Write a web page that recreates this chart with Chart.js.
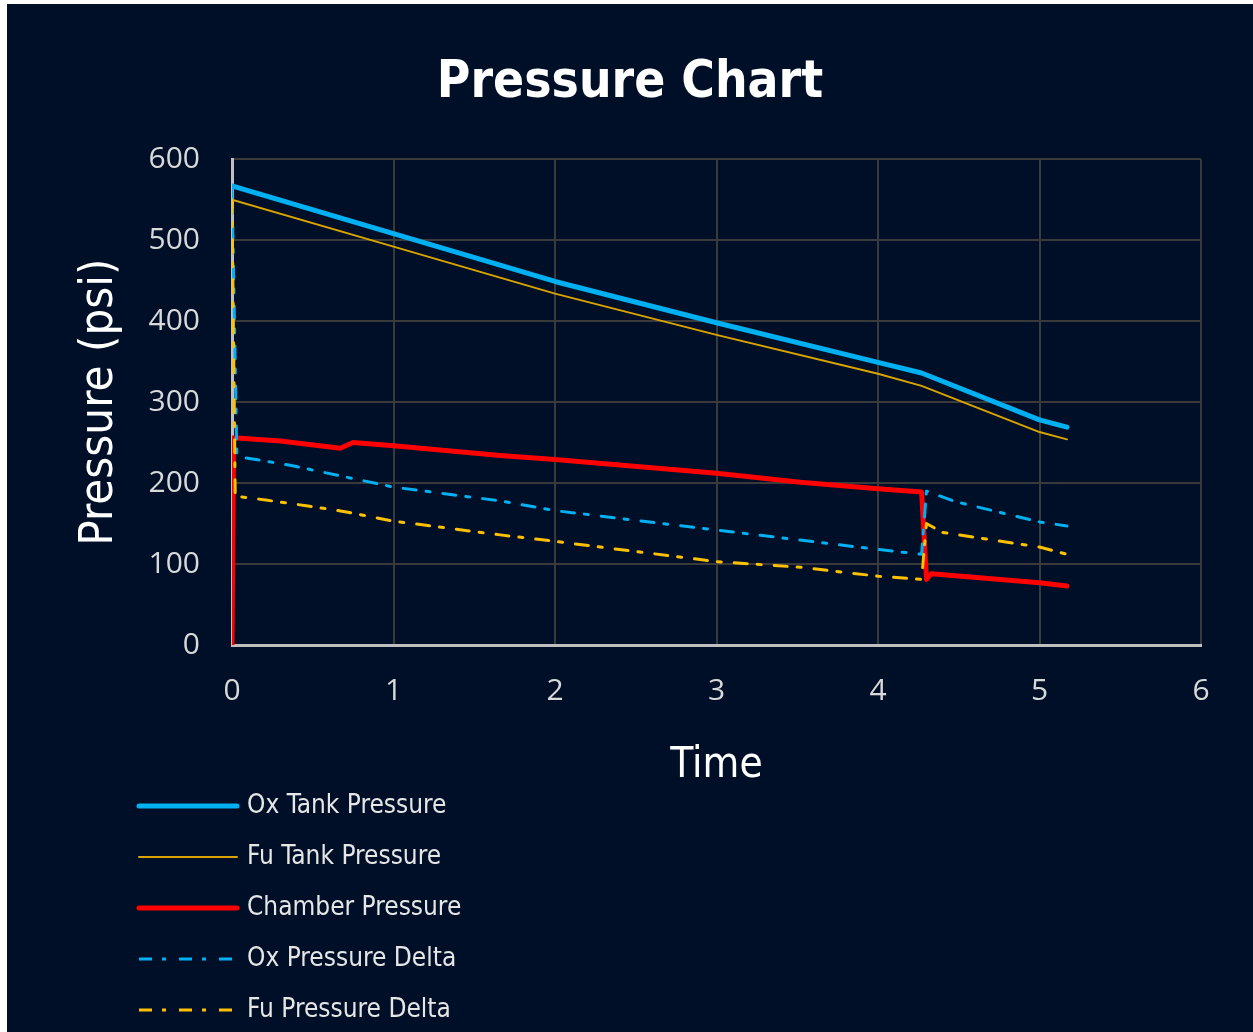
<!DOCTYPE html>
<html>
<head>
<meta charset="utf-8">
<title>Pressure Chart</title>
<script src="https://cdn.jsdelivr.net/npm/chart.js@4.4.1/dist/chart.umd.min.js"></script>
<style>
  html, body { margin: 0; padding: 0; background: #ffffff; }
  #wrap { position: absolute; left: 7px; top: 4px; width: 1246px; height: 1028px; background: #000f28; }
</style>
</head>
<body>
<div id="wrap"><canvas id="pressureChart"></canvas></div>
<script>
// values (time in s, pressure in psi)
const oxTankTime = [0, 1, 2, 3, 4, 4.27, 5, 5.17];
const oxTankPsi = [567, 508, 449, 398, 349, 336, 278, 269];

const fuTankTime = [0, 1, 2, 3, 4, 4.27, 5, 5.17];
const fuTankPsi = [550, 492, 434, 383, 335, 320, 263, 254];

const chamberTime = [0, 0.01, 0.3, 0.67, 0.75, 1, 1.66, 2, 3, 3.52, 4, 4.27, 4.3, 4.33, 5, 5.17];
const chamberPsi = [0, 256, 252, 243, 250, 246, 234, 229, 212, 201, 193, 189, 81, 88, 77, 73];

const oxDeltaTime = [0, 0.03, 0.36, 1, 1.66, 2, 3, 4, 4.27, 4.3, 4.48, 5, 5.17];
const oxDeltaPsi = [567, 233, 222, 195, 178, 166, 142, 118, 112, 190, 177, 152, 147];

const fuDeltaTime = [0, 0.02, 0.21, 0.46, 0.69, 1, 1.66, 2, 3, 3.52, 4, 4.27, 4.3, 4.4, 5, 5.17];
const fuDeltaPsi = [550, 184, 179, 172, 165, 153, 136, 128, 103, 96, 85, 81, 150, 139, 121, 112];

const xTicks = [0, 1, 2, 3, 4, 5, 6];
const yTicks = [0, 100, 200, 300, 400, 500, 600];

const NARROW = "'Liberation Sans Narrow', 'DejaVu Sans Condensed', sans-serif";

function pts(xs, ys) {
  return xs.map((x, i) => ({ x: x, y: ys[i] }));
}

const dashDot = [13, 10, 4, 13];

// legend drawn as a single column under the axis, like the original
const columnLegend = {
  id: "columnLegend",
  afterDraw(chart) {
    const ctx = chart.ctx;
    ctx.save();
    chart.data.datasets.forEach((ds, i) => {
      let y = 802 + i * 51;
      ctx.beginPath();
      ctx.strokeStyle = ds.borderColor;
      ctx.lineWidth = ds.borderWidth;
      ctx.lineCap = ds.borderDash ? "butt" : "round";
      ctx.setLineDash(ds.borderDash || []);
      ctx.moveTo(132, y);
      ctx.lineTo(230, y);
      ctx.stroke();
      ctx.setLineDash([]);
      ctx.fillStyle = "#e6e6e6";
      ctx.font = "26px " + NARROW;
      ctx.textBaseline = "middle";
      ctx.fillText(ds.label, 240, y);
    });
    ctx.restore();
  }
};

const ctx = document.getElementById("pressureChart").getContext("2d");
const chart = new Chart(ctx, {
  type: "scatter",
  data: {
    datasets: [
      {
        label: "Ox Tank Pressure",
        data: pts(oxTankTime, oxTankPsi),
        borderColor: "#00b0f0",
        borderWidth: 5,
        order: 5
      },
      {
        label: "Fu Tank Pressure",
        data: pts(fuTankTime, fuTankPsi),
        borderColor: "#d9a300",
        borderWidth: 2,
        order: 4
      },
      {
        label: "Chamber Pressure",
        data: pts(chamberTime, chamberPsi),
        borderColor: "#ff0000",
        borderWidth: 5,
        order: 3
      },
      {
        label: "Ox Pressure Delta",
        data: pts(oxDeltaTime, oxDeltaPsi),
        borderColor: "#00b0f0",
        borderWidth: 3,
        borderDash: dashDot,
        order: 2
      },
      {
        label: "Fu Pressure Delta",
        data: pts(fuDeltaTime, fuDeltaPsi),
        borderColor: "#ffc000",
        borderWidth: 3,
        borderDash: dashDot,
        order: 1
      }
    ]
  },
  options: {
    responsive: true,
    maintainAspectRatio: false,
    animation: false,
    showLine: true,
    elements: {
      point: { radius: 0, hoverRadius: 0 },
      line: { tension: 0, borderJoinStyle: "round", borderCapStyle: "round", fill: false }
    },
    layout: { padding: { left: 52, right: 52, top: 0, bottom: 227 } },
    plugins: {
      legend: { display: false },
      tooltip: { enabled: false },
      title: {
        display: true,
        text: "Pressure Chart",
        color: "#ffffff",
        font: { family: NARROW, size: 51, weight: "bold", lineHeight: 1.2 },
        padding: { top: 49, bottom: 45 }
      }
    },
    scales: {
      x: {
        type: "linear",
        min: 0,
        max: 6,
        afterFit(s) { s.height = 160; },
        afterBuildTicks(s) { s.ticks = xTicks.map((v) => ({ value: v })); },
        grid: { color: "#3a3a3a", lineWidth: 2, drawTicks: false },
        border: { color: "#bfbfbf", width: 3 },
        ticks: {
          color: "#d9d9d9",
          padding: 28,
          font: { family: "'Open Sans', sans-serif", size: 30 }
        },
        title: {
          display: true,
          text: "Time",
          color: "#ffffff",
          font: { family: NARROW, size: 42, lineHeight: 1.2 },
          padding: { top: 0, bottom: 14 }
        }
      },
      y: {
        min: 0,
        max: 600,
        afterFit(s) { s.width = 173; },
        afterBuildTicks(s) { s.ticks = yTicks.map((v) => ({ value: v })); },
        grid: { color: "#3a3a3a", lineWidth: 2, drawTicks: false },
        border: { color: "#bfbfbf", width: 3 },
        ticks: {
          color: "#d9d9d9",
          padding: 32,
          font: { family: "'Open Sans', sans-serif", size: 30 }
        },
        title: {
          display: true,
          text: "Pressure (psi)",
          color: "#ffffff",
          font: { family: NARROW, size: 47, lineHeight: 1.2 },
          padding: { top: 13, bottom: 0 }
        }
      }
    }
  },
  plugins: [columnLegend]
});
</script>
</body>
</html>
